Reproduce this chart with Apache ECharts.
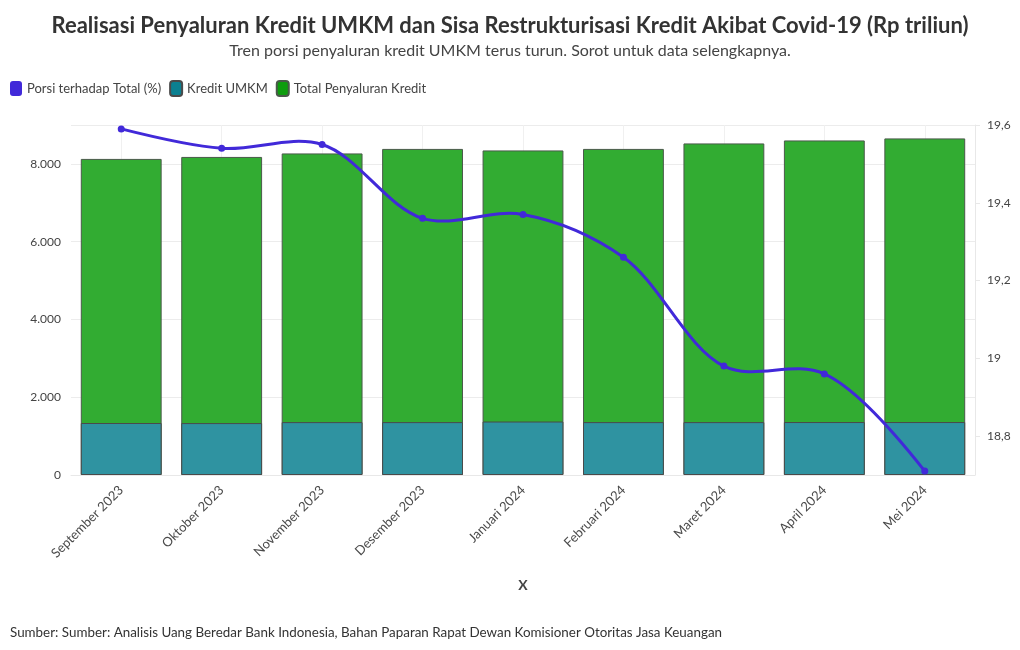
<!DOCTYPE html>
<html><head><meta charset="utf-8">
<script src="https://cdn.jsdelivr.net/npm/echarts@6/dist/echarts.min.js"></script>
<style>html,body{margin:0;padding:0;background:#fff}#c{width:1020px;height:650px}</style>
</head><body><div id="c"></div>
<script>
const categories = ["September 2023","Oktober 2023","November 2023","Desember 2023","Januari 2024","Februari 2024","Maret 2024","April 2024","Mei 2024"];
const totalKredit = [8128, 8179, 8269, 8385, 8346, 8385, 8526, 8603, 8655];
const kreditUMKM = [1337, 1335, 1360, 1360, 1375, 1360, 1360, 1362, 1362];
const porsi = [19.59, 19.54, 19.55, 19.36, 19.37, 19.26, 18.98, 18.96, 18.71];
const leftTicks = [0, 2000, 4000, 6000, 8000];
const rightTicks = [18.8, 19.0, 19.2, 19.4, 19.6];

const FONT = 'Lato,"Noto Sans",sans-serif';
const LINE_COLOR = '#4129d9';
const chart = echarts.init(document.getElementById('c'), null, {renderer:'canvas'});
const fmtId = v => v.toLocaleString('de-DE');
const fmtDec = v => (Math.round(v*10)/10).toString().replace('.', ',');

// Catmull-Rom style spline (plotly-like) through points given in pixel space
function tangent(p0, p1, p2, s) {
  const d1x = p0[0]-p1[0], d1y = p0[1]-p1[1], d2x = p2[0]-p1[0], d2y = p2[1]-p1[1];
  const d1a = Math.pow(d1x*d1x+d1y*d1y, 0.25), d2a = Math.pow(d2x*d2x+d2y*d2y, 0.25);
  const nx = (d2a*d2a*d1x - d1a*d1a*d2x)*s, ny = (d2a*d2a*d1y - d1a*d1a*d2y)*s;
  const den1 = 3*d2a*(d1a+d2a), den2 = 3*d1a*(d1a+d2a);
  return [[p1[0]+(den1 && nx/den1), p1[1]+(den1 && ny/den1)],
          [p1[0]-(den2 && nx/den2), p1[1]-(den2 && ny/den2)]];
}
function splinePath(pts, s) {
  const t = [];
  for (let i = 1; i < pts.length-1; i++) t.push(tangent(pts[i-1], pts[i], pts[i+1], s));
  let d = 'M' + pts[0][0] + ',' + pts[0][1];
  d += 'Q' + t[0][0][0] + ',' + t[0][0][1] + ' ' + pts[1][0] + ',' + pts[1][1];
  for (let i = 2; i < pts.length-1; i++) {
    d += 'C' + t[i-2][1][0] + ',' + t[i-2][1][1] + ' ' + t[i-1][0][0] + ',' + t[i-1][0][1] + ' ' + pts[i][0] + ',' + pts[i][1];
  }
  const l = t[t.length-1][1], e = pts[pts.length-1];
  d += 'Q' + l[0] + ',' + l[1] + ' ' + e[0] + ',' + e[1];
  return d;
}

chart.setOption({
  animation:false,
  textStyle:{fontFamily:FONT},
  title:[
    {text:'Realisasi Penyaluran Kredit UMKM dan Sisa Restrukturisasi Kredit Akibat Covid-19 (Rp triliun)',
     left:'center', top:10, textStyle:{fontSize:22, fontWeight:'bold', color:'#333', fontFamily:FONT}},
    {text:'Tren porsi penyaluran kredit UMKM terus turun. Sorot untuk data selengkapnya.',
     left:'center', top:38, textStyle:{fontSize:16, fontWeight:'normal', color:'#444', fontFamily:FONT}},
    {text:'Sumber: Sumber: Analisis Uang Beredar Bank Indonesia, Bahan Paparan Rapat Dewan Komisioner Otoritas Jasa Keuangan',
     left:5, top:621, textStyle:{fontSize:13.4, fontWeight:'normal', color:'#333', fontFamily:FONT}}
  ],
  legend:{
    left:5, top:75, itemWidth:12, itemHeight:15, itemGap:8,
    icon:'roundRect',
    textStyle:{fontSize:13, color:'#444', fontFamily:FONT},
    data:[
      {name:'Porsi terhadap Total (%)', itemStyle:{color:LINE_COLOR}},
      {name:'Kredit UMKM', itemStyle:{color:'#0b8091'}},
      {name:'Total Penyaluran Kredit', itemStyle:{color:'#0e9d0e'}}
    ]
  },
  grid:{left:71, right:45, top:125, bottom:175, containLabel:false},
  xAxis:{
    type:'category', data:categories,
    name:'X', nameLocation:'middle', nameGap:103,
    nameTextStyle:{fontSize:14, fontWeight:'bold', color:'#444', fontFamily:FONT},
    axisLine:{show:true, lineStyle:{color:'#e8e8e8'}},
    axisTick:{show:false, alignWithLabel:true},
    splitLine:{show:true, alignWithLabel:true, lineStyle:{color:'#f0f0f0'}},
    axisLabel:{rotate:45, fontSize:13, color:'#4a4a4a', margin:13, fontFamily:FONT, interval:0}
  },
  yAxis:[
    {type:'value', min:0, max:9000, interval:2000,
     axisLine:{show:false}, axisTick:{show:false},
     splitLine:{show:true, lineStyle:{color:'#ececec'}},
     axisLabel:{fontSize:12, color:'#444', margin:10, fontFamily:FONT, showMaxLabel:false,
       formatter:v=> leftTicks.indexOf(v)>=0 ? fmtId(v) : ''}},
    {type:'value', min:18.7, max:19.6, position:'right',
     axisLine:{show:true, lineStyle:{color:'#e8e8e8'}},
     axisTick:{show:true, customValues:rightTicks, length:5, lineStyle:{color:'#e8e8e8'}},
     splitLine:{show:false},
     axisLabel:{customValues:rightTicks, fontSize:12, color:'#444', margin:12, fontFamily:FONT,
       formatter:v=>fmtDec(v)}}
  ],
  series:[
    {name:'Total Penyaluran Kredit', type:'bar', data:totalKredit, yAxisIndex:0,
     barWidth:'80.5%', barGap:'-100%', z:1,
     itemStyle:{color:'#32ac32', borderColor:'#4a5a4a', borderWidth:1}},
    {name:'Kredit UMKM', type:'bar', data:kreditUMKM, yAxisIndex:0,
     barWidth:'80.5%', barGap:'-100%', z:2,
     itemStyle:{color:'#2f93a1', borderColor:'#4a4a4a', borderWidth:1}},
    {name:'Porsi terhadap Total (%)', type:'custom', yAxisIndex:1, z:4, silent:true,
     data: porsi.map((v,i)=>[i, v]),
     itemStyle:{color:LINE_COLOR},
     renderItem:function(params, api){
       if (params.dataIndexInside !== 0) return null;
       const pts = porsi.map((v,i)=>api.coord([i, v]));
       return {type:'path', shape:{pathData:splinePath(pts, 1)},
               style:{fill:null, stroke:LINE_COLOR, lineWidth:3, lineJoin:'round'}};
     }},
    {name:'Porsi terhadap Total (%)', type:'line', data:porsi, yAxisIndex:1, z:5,
     symbol:'circle', symbolSize:7,
     lineStyle:{width:0, opacity:0}, itemStyle:{color:LINE_COLOR}}
  ]
});
</script></body></html>
